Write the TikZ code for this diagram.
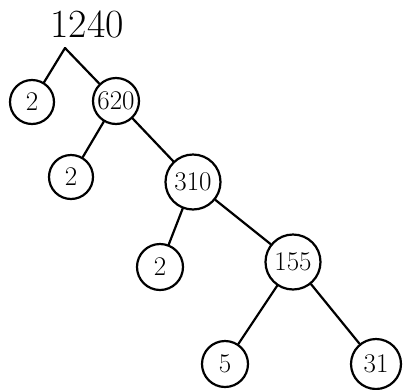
\documentclass[tikz,border=0pt]{standalone}
\begin{document}
\begin{tikzpicture}[
                x=1pt, y=-1pt,
                factor/.style={
                    draw=black,
                    circle,
                    line width=2.2pt,
                    inner sep=0pt,
                    minimum size=44pt,
                    font=\fontsize{27}{27}\selectfont
                },
                bigfactor/.style={
                    factor,
                    minimum size=55pt
                },
                branch/.style={
                    line width=2.2pt,
                    line cap=round
                }
            ]
                \useasboundingbox (0,0) rectangle (404,389);

                \node[font=\fontsize{40}{40}\selectfont] (n1240) at (87,24) {1240};
                \coordinate (split) at (65,48);

                \node[factor] (twoA)  at (32,102)  {2};
                \node[factor, minimum size=46pt] (n620) at (116,101) {620};
                \node[factor] (twoB)  at (71,177)  {2};
                \node[bigfactor] (n310) at (193,182) {310};
                \node[factor, minimum size=46pt] (twoC) at (160,267) {2};
                \node[bigfactor] (n155) at (293,262) {155};
                \node[factor, minimum size=46pt] (five) at (225,364) {5};
                \node[factor, minimum size=50pt] (n31) at (376,364) {31};

                \draw[branch] (split) -- (twoA);
                \draw[branch] (split) -- (n620);
                \draw[branch] (n620) -- (twoB);
                \draw[branch] (n620) -- (n310);
                \draw[branch] (n310) -- (twoC);
                \draw[branch] (n310) -- (n155);
                \draw[branch] (n155) -- (five);
                \draw[branch] (n155) -- (n31);
        \end{tikzpicture}
\end{document}
